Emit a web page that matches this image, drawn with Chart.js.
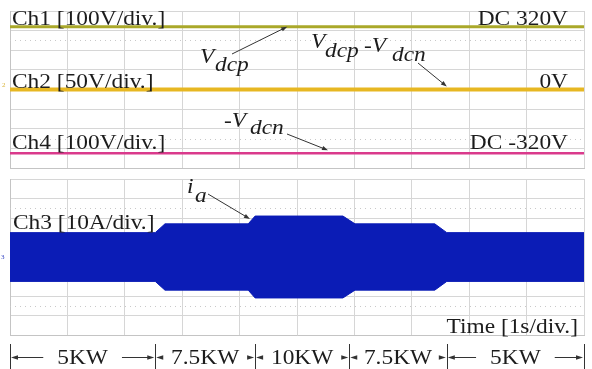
<!DOCTYPE html>
<html>
<head>
<meta charset="utf-8">
<script src="https://cdn.jsdelivr.net/npm/chart.js@4.4.0/dist/chart.umd.min.js"></script>
<style>
html, body { margin: 0; padding: 0; background: #fff; }
#wrap { position: relative; width: 592px; height: 369px; overflow: hidden; }
canvas { position: absolute; left: 0; }
#topChart { top: 0; }
#bottomChart { top: 174px; }
</style>
</head>
<body>
<div id="wrap">
  <canvas id="topChart" width="592" height="174"></canvas>
  <canvas id="bottomChart" width="592" height="195"></canvas>
</div>
<script>
// time axis: 10 divisions, 1 s/div
const timeMin = 0;
const timeMax = 10;

// top panel: DC link voltages (volts), each channel with its own V/div
const dcTime = [0, 10];
const ch1Volts = [320, 320];
const ch2Volts = [0, 0];
const ch4Volts = [-325, -325];
const ch1PerDiv = 100;
const ch2PerDiv = 50;
const ch4PerDiv = 100;

// bottom panel: phase current envelope (peak amps), 10 A/div
const iaTime = [0, 2.53, 2.70, 4.15, 4.27, 5.80, 6.01, 7.40, 7.61, 10];
const iaPeak = [12.5, 12.5, 17, 17, 21, 21, 17, 17, 12.5, 12.5];
const iaPerDiv = 10;

// load steps below the plot
const stepEdges = [0, 2.53, 4.27, 5.91, 7.61, 10];
const stepLabels = ["5KW", "7.5KW", "10KW", "7.5KW", "5KW"];

const SERIF = '"Liberation Serif", "Times New Roman", serif';
const TEXT = "#1c1c1c";
const GRID = "#d6d6d6";
const SX = 1.17; // the scope image is a bit stretched sideways

function toDiv(times, vals, perDiv) {
  return times.map((t, i) => ({ x: t, y: vals[i] / perDiv }));
}

function sText(ctx, str, x, y, align, font) {
  ctx.font = font || "20px " + SERIF;
  let w = ctx.measureText(str).width * SX;
  if (align === "right") x -= w;
  if (align === "center") x -= w / 2;
  ctx.save();
  ctx.translate(x, y);
  ctx.scale(SX, 1);
  ctx.textAlign = "left";
  ctx.textBaseline = "alphabetic";
  ctx.fillStyle = TEXT;
  ctx.fillText(str, 0, 0);
  ctx.restore();
  return w;
}

// pieces: [text, x, baseline]
function italicLabel(ctx, pieces) {
  pieces.forEach((p) => sText(ctx, p[0], p[1], p[2], "left", "italic 20px " + SERIF));
}

function arrow(ctx, x1, y1, x2, y2, head) {
  head = head || 6;
  let a = Math.atan2(y2 - y1, x2 - x1);
  ctx.save();
  ctx.strokeStyle = "#333";
  ctx.fillStyle = "#333";
  ctx.lineWidth = 1;
  ctx.beginPath();
  ctx.moveTo(x1, y1);
  ctx.lineTo(x2 - Math.cos(a) * head * 0.6, y2 - Math.sin(a) * head * 0.6);
  ctx.stroke();
  ctx.beginPath();
  ctx.moveTo(x2, y2);
  ctx.lineTo(x2 - head * Math.cos(a) + 2.2 * Math.sin(a), y2 - head * Math.sin(a) - 2.2 * Math.cos(a));
  ctx.lineTo(x2 - head * Math.cos(a) - 2.2 * Math.sin(a), y2 - head * Math.sin(a) + 2.2 * Math.cos(a));
  ctx.closePath();
  ctx.fill();
  ctx.restore();
}

// dotted half-division lines, like the scope graticule
function dottedLines(values) {
  return {
    id: "dotted",
    beforeDatasetsDraw(chart) {
      let ctx = chart.ctx, a = chart.chartArea, ys = chart.scales.y;
      ctx.save();
      ctx.strokeStyle = "#c9c9c9";
      ctx.lineWidth = 1;
      ctx.setLineDash([1, 4]);
      values.forEach((v) => {
        let y = Math.round(ys.getPixelForValue(v)) + 0.5;
        ctx.beginPath();
        ctx.moveTo(a.left, y);
        ctx.lineTo(a.right, y);
        ctx.stroke();
      });
      ctx.restore();
    },
  };
}

function scopeScales(yMin, yMax, yStep) {
  return {
    x: {
      type: "linear", min: timeMin, max: timeMax,
      ticks: { display: false, stepSize: 1 },
      grid: { color: GRID, drawTicks: false },
      border: { color: "#c4c4c4" },
    },
    y: {
      min: yMin, max: yMax,
      ticks: { display: false, stepSize: yStep },
      grid: { color: GRID, drawTicks: false },
      border: { color: "#c4c4c4" },
    },
  };
}

const topLabels = {
  id: "topLabels",
  afterDatasetsDraw(chart) {
    let ctx = chart.ctx, xs = chart.scales.x, ys = chart.scales.y, a = chart.chartArea;
    let y1 = ys.getPixelForValue(ch1Volts[0] / ch1PerDiv);
    let y2 = ys.getPixelForValue(ch2Volts[0] / ch2PerDiv);
    let y4 = ys.getPixelForValue(ch4Volts[0] / ch4PerDiv);
    sText(ctx, "Ch1 [100V/div.]", a.left + 2, y1 - 2);
    sText(ctx, "Ch2 [50V/div.]", a.left + 2, y2 - 2);
    sText(ctx, "Ch4 [100V/div.]", a.left + 2, y4 - 4);
    sText(ctx, "DC 320V", a.right - 16, y1 - 2, "right");
    sText(ctx, "0V", a.right - 16, y2 - 2, "right");
    sText(ctx, "DC -320V", a.right - 16, y4 - 4, "right");

    italicLabel(ctx, [["V", 200, 63], ["dcp", 215, 71]]);
    arrow(ctx, 232, 54, xs.getPixelForValue(4.83), y1);

    italicLabel(ctx, [["V", 311, 48], ["dcp", 325, 57], ["-V", 364, 52], ["dcn", 392, 61]]);
    arrow(ctx, 418, 63, xs.getPixelForValue(7.61), y2 - 3);

    italicLabel(ctx, [["-V", 224, 127], ["dcn", 250, 134]]);
    arrow(ctx, 287, 134, xs.getPixelForValue(5.54), y4 - 3);

    ctx.save();
    ctx.font = "7px " + SERIF;
    ctx.fillStyle = "#d9b43a";
    ctx.fillText("2", 2, y2 - 3);
    ctx.restore();
  },
};

const bottomLabels = {
  id: "bottomLabels",
  afterDatasetsDraw(chart) {
    let ctx = chart.ctx, xs = chart.scales.x, ys = chart.scales.y, a = chart.chartArea;
    sText(ctx, "Ch3 [10A/div.]", a.left + 3, a.top + 50);
    sText(ctx, "Time [1s/div.]", a.right - 6, a.bottom - 2, "right");

    italicLabel(ctx, [["i", 187, 19], ["a", 195, 28]]);
    arrow(ctx, 208, 20, xs.getPixelForValue(4.18), ys.getPixelForValue(19) - 1);

    ctx.save();
    ctx.font = "7px " + SERIF;
    ctx.fillStyle = "#3040c0";
    ctx.fillText("3", 1, ys.getPixelForValue(0) + 2);
    ctx.restore();

    // load steps
    let rowY = a.bottom + 22.5;
    ctx.save();
    ctx.strokeStyle = "#333";
    ctx.lineWidth = 1;
    stepEdges.forEach((t) => {
      let x = Math.round(xs.getPixelForValue(t)) + 0.5;
      ctx.beginPath();
      ctx.moveTo(x, a.bottom + 9);
      ctx.lineTo(x, a.bottom + 36);
      ctx.stroke();
    });
    ctx.restore();
    stepLabels.forEach((lab, i) => {
      let x0 = xs.getPixelForValue(stepEdges[i]);
      let x1 = xs.getPixelForValue(stepEdges[i + 1]);
      let mid = (x0 + x1) / 2;
      ctx.font = "20px " + SERIF;
      let w = ctx.measureText(lab).width * SX;
      sText(ctx, lab, mid, rowY + 6, "center");
      let gap = Math.max(1, Math.min(14, (x1 - x0 - w) / 2 - 7));
      arrow(ctx, mid - w / 2 - gap, rowY, x0 + 1, rowY, 7);
      arrow(ctx, mid + w / 2 + gap, rowY, x1 - 1, rowY, 7);
    });
  },
};

new Chart(document.getElementById("topChart"), {
  type: "line",
  data: {
    datasets: [
      { data: toDiv(dcTime, ch1Volts, ch1PerDiv), borderColor: "#aaa82a", borderWidth: 3 },
      { data: toDiv(dcTime, ch2Volts, ch2PerDiv), borderColor: "#e7b722", borderWidth: 4 },
      { data: toDiv(dcTime, ch4Volts, ch4PerDiv), borderColor: "#da3a8c", borderWidth: 2.5 },
    ],
  },
  options: {
    responsive: false,
    animation: false,
    layout: { padding: { left: 10, right: 8, top: 11, bottom: 6 } },
    elements: { point: { radius: 0 }, line: { tension: 0 } },
    plugins: { legend: { display: false }, tooltip: { enabled: false } },
    scales: scopeScales(-4, 4, 1),
  },
  plugins: [dottedLines([2.5, -2.5]), topLabels],
});

new Chart(document.getElementById("bottomChart"), {
  type: "line",
  data: {
    datasets: [
      {
        data: iaTime.map((t, i) => ({ x: t, y: iaPeak[i] })),
        borderColor: "#0b1cb6", borderWidth: 1, fill: false,
      },
      {
        data: iaTime.map((t, i) => ({ x: t, y: -iaPeak[i] })),
        borderColor: "#0b1cb6", borderWidth: 1,
        backgroundColor: "#0b1cb6", fill: "-1",
      },
    ],
  },
  options: {
    responsive: false,
    animation: false,
    layout: { padding: { left: 10, right: 8, top: 5, bottom: 34 } },
    elements: { point: { radius: 0 }, line: { tension: 0 } },
    plugins: { legend: { display: false }, tooltip: { enabled: false } },
    scales: scopeScales(-4 * iaPerDiv, 4 * iaPerDiv, iaPerDiv),
  },
  plugins: [dottedLines([2.5 * iaPerDiv, -2.5 * iaPerDiv]), bottomLabels],
});
</script>
</body>
</html>
